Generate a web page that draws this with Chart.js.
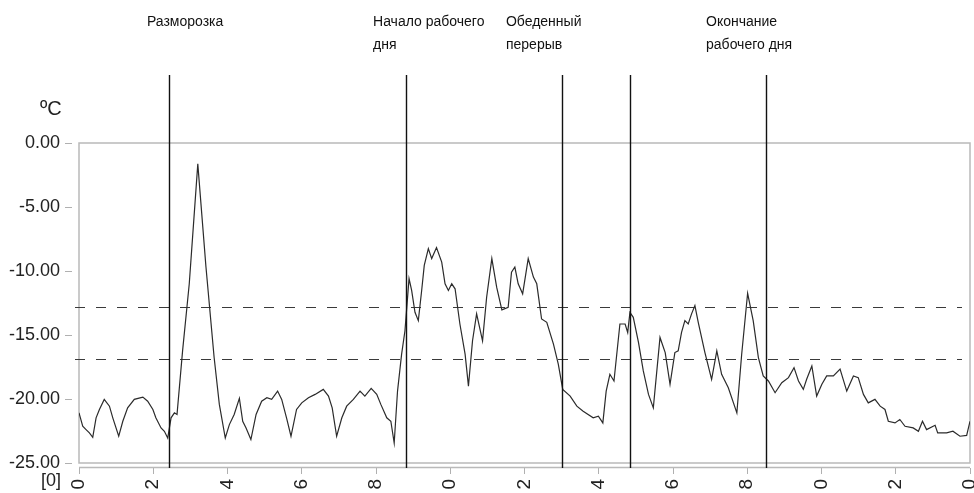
<!DOCTYPE html>
<html>
<head>
<meta charset="utf-8">
<script src="https://cdn.jsdelivr.net/npm/chart.js@4/dist/chart.umd.min.js"></script>
<style>
  html, body { margin: 0; padding: 0; background: #fff; overflow: hidden; width: 974px; height: 493px; }
  canvas { display: block; }
</style>
</head>
<body>
<canvas id="chart" width="974" height="490"></canvas>
<script>
// Time of day, hours
const hours = [
  0.00,0.10,0.19,0.28,0.37,0.46,0.55,0.68,0.82,0.91,
  1.07,1.18,1.31,1.49,1.72,1.85,1.99,2.07,2.21,2.30,
  2.39,2.48,2.57,2.64,2.79,2.97,3.20,3.42,3.64,3.78,
  3.94,4.05,4.18,4.32,4.41,4.50,4.63,4.77,4.92,5.06,
  5.19,5.35,5.46,5.59,5.71,5.86,6.00,6.18,6.36,6.58,
  6.72,6.82,6.94,7.08,7.21,7.39,7.57,7.70,7.87,8.02,
  8.13,8.29,8.40,8.49,8.58,8.69,8.78,8.89,8.96,9.05,
  9.14,9.23,9.30,9.41,9.50,9.63,9.77,9.86,9.95,10.04,
  10.13,10.26,10.40,10.49,10.60,10.71,10.87,10.98,11.12,11.25,
  11.39,11.56,11.65,11.74,11.83,11.95,12.10,12.24,12.33,12.46,
  12.60,12.78,12.91,13.03,13.23,13.41,13.58,13.85,13.99,14.11,
  14.20,14.30,14.41,14.57,14.71,14.78,14.84,14.93,15.07,15.20,
  15.34,15.47,15.65,15.79,15.92,16.05,16.14,16.23,16.32,16.41,
  16.50,16.59,16.68,16.86,17.04,17.18,17.31,17.49,17.72,17.85,
  18.01,18.16,18.30,18.43,18.57,18.75,18.93,19.11,19.26,19.38,
  19.51,19.60,19.74,19.87,20.01,20.14,20.32,20.50,20.68,20.86,
  20.99,21.13,21.26,21.44,21.58,21.71,21.80,21.98,22.11,22.25,
  22.47,22.61,22.72,22.83,23.06,23.13,23.37,23.54,23.73,23.91,
  24.00
];

// Chamber temperature, °C
const temps = [
  -21.08,-22.13,-22.39,-22.65,-22.99,-21.47,-20.82,-20.03,-20.56,-21.47,
  -22.91,-21.74,-20.69,-20.03,-19.85,-20.17,-20.82,-21.47,-22.26,-22.52,
  -23.05,-21.47,-21.08,-21.21,-16.24,-11.00,-1.63,-9.69,-16.76,-20.42,
  -23.05,-22.00,-21.21,-19.95,-21.74,-22.26,-23.17,-21.21,-20.17,-19.90,
  -20.03,-19.38,-20.03,-21.47,-22.91,-20.82,-20.30,-19.90,-19.64,-19.25,
  -19.77,-20.69,-22.91,-21.47,-20.56,-20.03,-19.38,-19.77,-19.17,-19.64,
  -20.42,-21.47,-21.74,-23.44,-19.38,-16.50,-14.67,-10.60,-11.52,-13.23,
  -13.88,-11.52,-9.56,-8.25,-9.03,-8.17,-9.30,-11.00,-11.52,-11.00,
  -11.39,-14.14,-16.50,-18.99,-15.45,-13.35,-15.45,-12.05,-9.03,-11.26,
  -13.04,-12.83,-10.09,-9.69,-11.00,-11.78,-9.03,-10.48,-11.00,-13.75,
  -14.01,-15.71,-17.28,-19.25,-19.77,-20.56,-20.95,-21.47,-21.34,-21.87,
  -19.38,-18.07,-18.59,-14.14,-14.14,-14.80,-13.23,-13.62,-15.58,-17.81,
  -19.64,-20.69,-15.19,-16.37,-18.85,-16.37,-16.24,-14.80,-13.88,-14.14,
  -13.35,-12.70,-14.01,-16.37,-18.46,-16.24,-18.07,-19.12,-21.08,-16.50,
  -11.74,-13.88,-16.76,-18.20,-18.59,-19.51,-18.73,-18.33,-17.55,-18.59,
  -19.25,-18.46,-17.42,-19.77,-18.85,-18.20,-18.20,-17.67,-19.38,-18.20,
  -18.33,-19.64,-20.30,-20.03,-20.56,-20.82,-21.74,-21.87,-21.60,-22.13,
  -22.26,-22.52,-21.74,-22.39,-22.05,-22.65,-22.65,-22.52,-22.91,-22.84,
  -21.74
];

// Axis ticks
const xTicks = [0, 2, 4, 6, 8, 10, 12, 14, 16, 18, 20, 22, 24];
const yTicks = [0, -5, -10, -15, -20, -25];

// Allowed temperature band (dashed lines)
const limitLines = [-12.8, -16.9];

// Events of the day (vertical lines) and their captions
const eventHours = [2.42, 8.81, 13.01, 14.84, 18.5];
const captions = [
  ['Разморозка'],
  ['Начало рабочего', 'дня'],
  ['Обеденный', 'перерыв'],
  ['Окончание', 'рабочего дня']
];
const captionHours = [1.83, 7.92, 11.5, 16.89];

const FONT = '"Liberation Sans", Arial, Helvetica, sans-serif';
const CANVAS_H = 490;

const decorations = {
  id: 'decorations',
  beforeDatasetsDraw(chart) {
    const { ctx, chartArea: a, scales: { y } } = chart;
    ctx.save();
    // plot frame
    ctx.strokeStyle = '#b9b9b9';
    ctx.lineWidth = 1.5;
    ctx.strokeRect(a.left, a.top, a.right - a.left, a.bottom - a.top);
    // detached x-axis line
    ctx.beginPath();
    ctx.moveTo(a.left, a.bottom + 4.5);
    ctx.lineTo(a.right, a.bottom + 4.5);
    ctx.stroke();
    // dashed band limits
    ctx.strokeStyle = '#3a3a3a';
    ctx.lineWidth = 1.2;
    ctx.setLineDash([10, 11]);
    limitLines.forEach(v => {
      const py = Math.round(y.getPixelForValue(v)) + 0.5;
      ctx.beginPath();
      ctx.moveTo(a.left - 4, py);
      ctx.lineTo(a.right - 8, py);
      ctx.stroke();
    });
    ctx.restore();
  },
  afterDatasetsDraw(chart) {
    const { ctx, chartArea: a, scales: { x } } = chart;
    ctx.save();
    ctx.strokeStyle = '#111';
    ctx.lineWidth = 1.4;
    eventHours.forEach(h => {
      const px = Math.round(x.getPixelForValue(h)) + 0.5;
      ctx.beginPath();
      ctx.moveTo(px, 75);
      ctx.lineTo(px, a.bottom + 5);
      ctx.stroke();
    });
    ctx.fillStyle = '#111';
    ctx.font = '14px ' + FONT;
    ctx.textAlign = 'left';
    ctx.textBaseline = 'middle';
    captions.forEach((lines, i) => {
      const px = x.getPixelForValue(captionHours[i]);
      lines.forEach((t, j) => ctx.fillText(t, px, 22 + j * 23));
    });
    // unit captions
    ctx.fillStyle = '#222';
    ctx.font = '20px ' + FONT;
    ctx.fillText('ºC', 40, 109);
    ctx.font = '18px ' + FONT;
    ctx.textAlign = 'right';
    ctx.fillText('[0]', 61, 481);
    ctx.restore();
  }
};

new Chart(document.getElementById('chart'), {
  type: 'line',
  data: {
    datasets: [{
      data: hours.map((h, i) => ({ x: h, y: temps[i] })),
      borderColor: '#2b2b2b',
      borderWidth: 1.2,
      pointRadius: 0,
      tension: 0,
      fill: false
    }]
  },
  options: {
    responsive: false,
    animation: false,
    devicePixelRatio: 1,
    layout: { padding: { top: 143, right: 4, left: 0, bottom: 0 } },
    plugins: { legend: { display: false }, tooltip: { enabled: false } },
    scales: {
      x: {
        type: 'linear',
        min: 0,
        max: 24,
        afterBuildTicks: s => { s.ticks = xTicks.map(v => ({ value: v })); },
        afterFit: s => { s.height = CANVAS_H - 463; s.paddingLeft = 0; s.paddingRight = 0; },
        border: { display: false },
        grid: {
          drawOnChartArea: false,
          drawTicks: true,
          tickLength: 11,
          tickColor: '#b0b0b0',
          tickWidth: 1,
          tickBorderDash: [0, 5, 100]
        },
        ticks: {
          autoSkip: false,
          minRotation: 90,
          maxRotation: 90,
          padding: 5,
          color: '#222',
          font: { family: FONT, size: 19 },
          callback: v => String(v % 24)
        }
      },
      y: {
        min: -25,
        max: 0,
        afterBuildTicks: s => { s.ticks = yTicks.map(v => ({ value: v })); },
        afterFit: s => { s.width = 79; s.paddingTop = 0; s.paddingBottom = 0; },
        border: { display: false },
        grid: {
          drawOnChartArea: false,
          drawTicks: true,
          tickLength: 14,
          tickColor: '#b0b0b0',
          tickWidth: 1,
          tickBorderDash: [7, 100]
        },
        ticks: {
          padding: 5,
          color: '#222',
          font: { family: FONT, size: 18 },
          callback: v => v.toFixed(2)
        }
      }
    }
  },
  plugins: [decorations]
});
</script>
</body>
</html>
